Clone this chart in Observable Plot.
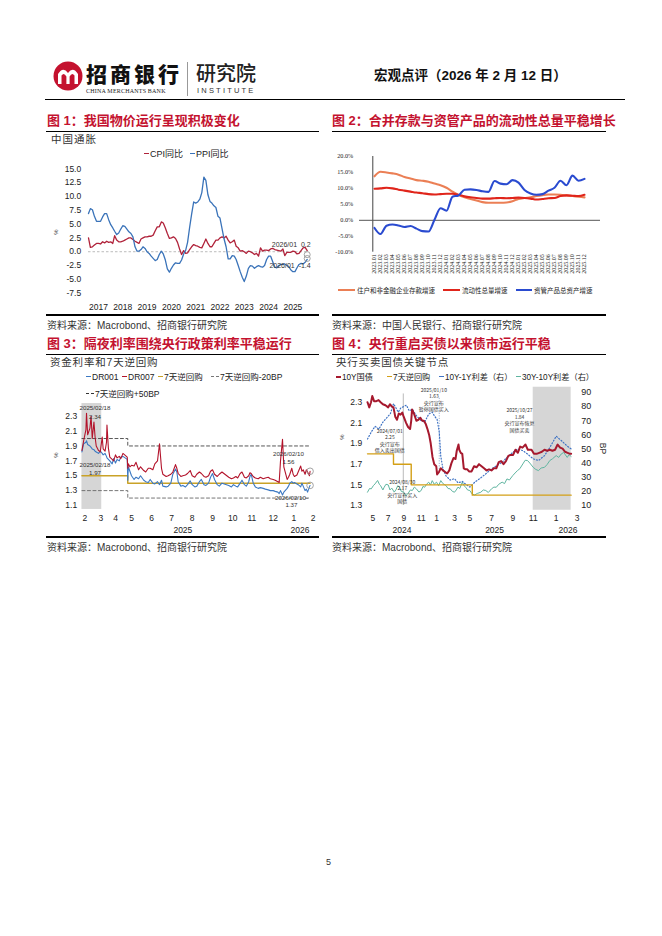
<!DOCTYPE html>
<html><head><meta charset="utf-8">
<script src="https://cdn.jsdelivr.net/npm/d3@7"></script>
<script src="https://cdn.jsdelivr.net/npm/@observablehq/plot@0.6"></script>
<style>
body{margin:0;background:#fff;}
#page{position:relative;width:662px;height:936px;overflow:hidden;background:#fff;font-family:"Liberation Sans","Noto Sans CJK SC",sans-serif;color:#222;}
.abs{position:absolute;white-space:nowrap;}
.title{font-family:"Liberation Sans","Noto Sans CJK SC",sans-serif;font-weight:bold;color:#c4122f;font-size:13px;line-height:16px;}
.dash{display:inline-block;width:5px;height:0;border-top:1.5px solid;vertical-align:middle;margin-right:1px;position:relative;top:-1px;}
.hline{position:absolute;background:#000;}
</style></head>
<body><div id="page"></div>
<script>
// ---------------- DATA ----------------
// Fig 1: China CPI / PPI YoY (%), monthly 2017-01 .. 2026-01
const cpiYoY = [2.5,0.8,0.9,1.2,1.5,1.5,1.4,1.8,1.6,1.9,1.7,1.8,
 1.5,2.9,2.1,1.8,1.8,1.9,2.1,2.3,2.5,2.5,2.2,1.9,
 1.7,1.5,2.3,2.5,2.7,2.7,2.8,2.8,3.0,3.8,4.5,4.5,
 5.4,5.2,4.3,3.3,2.4,2.5,2.7,2.4,1.7,0.5,-0.5,0.2,
 -0.3,-0.2,0.4,0.9,1.3,1.1,1.0,0.8,0.7,1.5,2.3,1.5,
 0.9,0.9,1.5,2.1,2.1,2.5,2.7,2.5,2.8,2.1,1.6,1.8,
 2.1,1.0,0.7,0.1,0.2,0.0,-0.3,0.1,0.0,-0.2,-0.5,-0.3,
 -0.8,0.7,0.1,0.3,0.3,0.2,0.5,0.6,0.4,0.3,0.2,0.1,
 0.5,-0.7,-0.1,-0.1,-0.1,0.1,0.0,-0.4,-0.3,0.2,0.7,0.8,
 0.2];
const ppiYoY = [6.9,7.8,7.6,6.4,5.5,5.5,5.5,6.3,6.9,6.9,5.8,4.9,
 4.3,3.7,3.1,3.4,4.1,4.7,4.6,4.1,3.6,3.3,2.7,0.9,
 0.1,0.1,0.4,0.9,0.6,0.0,-0.3,-0.8,-1.2,-1.6,-1.4,-0.5,
 0.1,-0.4,-1.5,-3.1,-3.7,-3.0,-2.4,-2.0,-2.1,-2.1,-1.5,-0.4,
 0.3,1.7,4.4,6.8,9.0,8.8,9.0,9.5,10.7,13.5,12.9,10.3,
 9.1,8.8,8.3,8.0,6.4,6.1,4.2,2.3,0.9,-1.3,-1.3,-0.7,
 -0.8,-1.4,-2.5,-3.6,-4.6,-5.4,-4.4,-3.0,-2.5,-2.6,-3.0,-2.7,
 -2.5,-2.7,-2.8,-2.5,-1.4,-0.8,-0.8,-1.8,-2.8,-2.9,-2.5,-2.3,
 -2.3,-2.2,-2.5,-2.7,-3.3,-3.6,-3.6,-2.9,-2.3,-2.1,-2.2,-1.9,
 -1.4];
const fig1YTicks = [-7.5,-5.0,-2.5,0.0,2.5,5.0,7.5,10.0,12.5,15.0];
const fig1YearTicks = ["2017","2018","2019","2020","2021","2022","2023","2024","2025"];

// Fig 2: growth rates (%), monthly 2023.01 .. 2025.12
const fig2Months = ["2023.01","2023.02","2023.03","2023.04","2023.05","2023.06","2023.07","2023.08","2023.09","2023.10","2023.11","2023.12",
 "2024.01","2024.02","2024.03","2024.04","2024.05","2024.06","2024.07","2024.08","2024.09","2024.10","2024.11","2024.12",
 "2025.01","2025.02","2025.03","2025.04","2025.05","2025.06","2025.07","2025.08","2025.09","2025.10","2025.11","2025.12"];
const depositGrowth = [13.8,15.2,15.0,14.7,14.3,13.6,13.1,12.6,12.4,12.1,11.5,11.0,
 10.2,9.0,7.9,7.2,6.7,6.2,5.7,5.5,5.5,5.5,5.6,6.0,
 6.7,7.0,7.2,7.6,7.9,8.1,8.1,8.0,7.8,7.6,7.4,7.2];
const liquidityGrowth = [9.9,10.0,10.2,10.0,9.6,9.3,9.0,8.7,8.5,8.2,8.1,8.2,
 8.3,8.3,8.0,7.5,7.2,7.0,6.8,6.8,6.9,7.0,6.9,7.0,
 7.1,7.0,6.8,6.5,6.7,6.9,7.0,7.6,7.8,7.7,7.6,8.0];
const assetMgmtGrowth = [-2.4,-4.3,-1.7,-1.3,-1.6,-2.1,-1.8,-2.6,-3.4,-3.5,0.2,3.8,
 3.0,7.4,7.8,9.6,9.7,9.5,9.1,8.9,12.3,11.5,11.3,12.6,
 11.8,9.5,8.4,8.0,8.2,9.3,10.2,12.4,11.0,14.0,12.4,13.0];
const fig2YTicks = [-10,-5,0,5,10,15,20];

// Fig 3: DR001, DR007 (%)
const moneyRates = [
 ["2025-02-10",1.82,1.84],["2025-02-13",1.93,1.97],["2025-02-17",1.95,2.12],["2025-02-18",1.97,2.34],["2025-02-20",1.92,2.05],
 ["2025-02-24",1.90,2.14],["2025-02-26",1.88,2.30],["2025-02-28",1.86,2.00],["2025-03-03",1.85,2.22],["2025-03-05",1.83,2.02],
 ["2025-03-07",1.82,1.90],["2025-03-11",1.80,1.84],["2025-03-14",1.83,1.82],["2025-03-18",1.80,2.02],["2025-03-20",1.78,1.86],
 ["2025-03-24",1.80,1.83],["2025-03-27",1.76,1.95],["2025-03-28",1.74,2.18],["2025-03-31",1.72,1.87],["2025-04-03",1.70,1.75],
 ["2025-04-08",1.66,1.72],["2025-04-11",1.73,1.70],["2025-04-15",1.67,1.78],["2025-04-18",1.72,1.74],["2025-04-22",1.70,1.76],
 ["2025-04-25",1.75,1.73],["2025-04-29",1.76,1.80],["2025-05-07",1.72,1.75],["2025-05-08",1.44,1.60],["2025-05-09",1.62,1.66],
 ["2025-05-12",1.56,1.62],["2025-05-15",1.50,1.64],["2025-05-19",1.45,1.63],["2025-05-22",1.48,1.68],["2025-05-26",1.46,1.58],
 ["2025-05-29",1.50,1.62],["2025-06-03",1.44,1.57],["2025-06-06",1.42,1.55],["2025-06-10",1.41,1.60],["2025-06-13",1.45,1.60],
 ["2025-06-17",1.40,1.58],["2025-06-20",1.39,1.66],["2025-06-24",1.42,1.70],["2025-06-27",1.38,1.93],["2025-06-30",1.44,1.60],
 ["2025-07-02",1.36,1.52],["2025-07-07",1.35,1.49],["2025-07-10",1.36,1.50],["2025-07-14",1.40,1.52],["2025-07-17",1.52,1.55],
 ["2025-07-21",1.59,1.65],["2025-07-23",1.55,1.60],["2025-07-25",1.42,1.53],["2025-07-29",1.36,1.49],["2025-08-01",1.37,1.50],
 ["2025-08-05",1.35,1.51],["2025-08-08",1.38,1.53],["2025-08-12",1.43,1.57],["2025-08-15",1.38,1.50],["2025-08-19",1.35,1.48],
 ["2025-08-22",1.36,1.52],["2025-08-26",1.42,1.55],["2025-08-29",1.45,1.53],["2025-09-02",1.38,1.49],["2025-09-05",1.37,1.48],
 ["2025-09-09",1.40,1.50],["2025-09-12",1.48,1.56],["2025-09-15",1.53,1.58],["2025-09-18",1.45,1.52],["2025-09-22",1.38,1.49],
 ["2025-09-25",1.36,1.52],["2025-09-29",1.40,1.55],["2025-10-09",1.37,1.48],["2025-10-13",1.35,1.46],["2025-10-16",1.38,1.47],
 ["2025-10-20",1.36,1.49],["2025-10-23",1.35,1.47],["2025-10-27",1.40,1.53],["2025-10-30",1.44,1.55],["2025-11-03",1.38,1.48],
 ["2025-11-06",1.36,1.47],["2025-11-10",1.42,1.50],["2025-11-12",1.49,1.54],["2025-11-14",1.52,1.53],["2025-11-17",1.40,1.49],
 ["2025-11-20",1.35,1.47],["2025-11-24",1.33,1.46],["2025-11-27",1.34,1.48],["2025-12-01",1.33,1.46],["2025-12-04",1.32,1.47],
 ["2025-12-08",1.31,1.48],["2025-12-11",1.30,1.46],["2025-12-15",1.30,1.45],["2025-12-18",1.29,1.44],["2025-12-22",1.28,1.42],
 ["2025-12-24",1.26,1.41],["2025-12-26",1.30,1.70],["2025-12-29",1.24,1.99],["2025-12-31",1.28,1.62],["2026-01-05",1.33,1.45],
 ["2026-01-07",1.36,1.48],["2026-01-09",1.40,1.52],["2026-01-12",1.42,1.60],["2026-01-14",1.40,1.52],["2026-01-16",1.41,1.49],
 ["2026-01-20",1.39,1.51],["2026-01-22",1.38,1.55],["2026-01-26",1.35,1.63],["2026-01-28",1.40,1.56],["2026-01-30",1.36,1.58],
 ["2026-02-02",1.30,1.52],["2026-02-04",1.32,1.58],["2026-02-06",1.28,1.55],["2026-02-09",1.35,1.50],["2026-02-10",1.37,1.56]];
const repo7d_fig3 = [["2025-02-10",1.5],["2025-05-08",1.4],["2026-02-10",1.4]];
const repoMinus20 = [["2025-02-10",1.3],["2025-05-08",1.2],["2026-02-10",1.2]];
const repoPlus50 = [["2025-02-10",2.0],["2025-05-08",1.9],["2026-02-10",1.9]];
const fig3Shade = [["2025-02-10","2025-03-17"]];
const fig3YTicks = [1.1,1.3,1.5,1.7,1.9,2.1,2.3];
const fig3MonthTicks = ["2025-02-15","2025-03-15","2025-04-15","2025-05-15","2025-06-15","2025-07-15","2025-08-15","2025-09-15","2025-10-15","2025-11-15","2025-12-15","2026-01-15","2026-02-15"];
const fig3MonthLabels = ["2","3","4","5","6","7","8","9","10","11","12","1","2"];
const fig3YearTicks = [["2025-08-01","2025"],["2026-01-25","2026"]];

// Fig 4
const cgb10y = [
 ["2024-04-10",2.30],["2024-04-17",2.25],["2024-04-24",2.30],["2024-04-29",2.36],["2024-05-06",2.31],["2024-05-15",2.31],
 ["2024-05-24",2.32],["2024-06-01",2.30],["2024-06-10",2.28],["2024-06-20",2.27],["2024-07-01",2.25],["2024-07-08",2.28],
 ["2024-07-15",2.26],["2024-07-22",2.25],["2024-07-29",2.16],["2024-08-05",2.13],["2024-08-12",2.19],["2024-08-19",2.18],
 ["2024-08-26",2.20],["2024-08-30",2.17],["2024-09-09",2.10],["2024-09-16",2.06],["2024-09-23",2.04],["2024-09-27",2.12],
 ["2024-09-30",2.23],["2024-10-08",2.18],["2024-10-15",2.12],["2024-10-22",2.13],["2024-10-29",2.15],["2024-11-05",2.12],
 ["2024-11-12",2.12],["2024-11-19",2.09],["2024-11-26",2.04],["2024-12-03",1.98],["2024-12-09",1.90],["2024-12-16",1.77],
 ["2024-12-23",1.70],["2024-12-31",1.68],["2025-01-03",1.60],["2025-01-08",1.62],["2025-01-10",1.63],["2025-01-15",1.66],
 ["2025-01-22",1.64],["2025-02-05",1.61],["2025-02-12",1.64],["2025-02-19",1.71],["2025-02-26",1.76],["2025-03-05",1.75],
 ["2025-03-10",1.83],["2025-03-17",1.89],["2025-03-20",1.84],["2025-03-26",1.81],["2025-04-01",1.80],["2025-04-07",1.66],
 ["2025-04-14",1.65],["2025-04-21",1.65],["2025-04-28",1.63],["2025-05-06",1.63],["2025-05-13",1.68],["2025-05-20",1.67],
 ["2025-05-27",1.70],["2025-06-03",1.68],["2025-06-10",1.66],["2025-06-17",1.64],["2025-06-24",1.65],["2025-07-01",1.64],
 ["2025-07-08",1.66],["2025-07-15",1.66],["2025-07-22",1.72],["2025-07-29",1.73],["2025-08-05",1.70],["2025-08-12",1.73],
 ["2025-08-19",1.78],["2025-08-26",1.79],["2025-09-02",1.79],["2025-09-09",1.84],["2025-09-16",1.81],["2025-09-23",1.87],
 ["2025-09-30",1.86],["2025-10-09",1.89],["2025-10-16",1.84],["2025-10-23",1.84],["2025-10-27",1.84],["2025-11-03",1.80],
 ["2025-11-10",1.80],["2025-11-17",1.81],["2025-11-24",1.82],["2025-12-01",1.84],["2025-12-08",1.83],["2025-12-15",1.84],
 ["2025-12-22",1.83],["2025-12-29",1.84],["2026-01-05",1.89],["2026-01-12",1.86],["2026-01-19",1.85],["2026-01-26",1.82],
 ["2026-02-02",1.81],["2026-02-09",1.80],["2026-02-12",1.80]];
const repo7d_fig4 = [["2024-04-10",1.8],["2024-07-22",1.7],["2024-09-27",1.5],["2025-05-08",1.4],["2026-02-12",1.4]];
const spread10y1y = [
 ["2024-04-10",57],["2024-04-25",62],["2024-05-10",66],["2024-05-25",64],["2024-06-10",69],["2024-06-25",72],["2024-07-10",75],
 ["2024-07-22",82],["2024-08-01",79],["2024-08-10",76],["2024-08-20",79],["2024-09-01",80],["2024-09-10",81],["2024-09-20",77],
 ["2024-10-01",78],["2024-10-15",73.5],["2024-11-01",70],["2024-11-15",69],["2024-12-01",74.7],["2024-12-15",76],["2024-12-25",73],
 ["2025-01-03",71],["2025-01-10",62],["2025-01-15",45],["2025-01-22",36],["2025-02-01",31],["2025-02-15",28],["2025-03-01",29],
 ["2025-03-15",26],["2025-04-01",27],["2025-04-15",25],["2025-05-01",23],["2025-05-15",26.5],["2025-06-01",29.6],["2025-06-15",32.4],
 ["2025-07-01",36],["2025-07-15",38],["2025-08-01",40.6],["2025-08-15",44],["2025-09-01",47.6],["2025-09-15",50],["2025-10-01",48.8],
 ["2025-10-15",46.4],["2025-11-01",43],["2025-11-15",41.8],["2025-12-01",45.3],["2025-12-15",51],["2026-01-01",59],["2026-01-15",56],
 ["2026-02-01",52],["2026-02-12",50]];
const spread30y10y = [
 ["2024-04-10",19.4],["2024-04-18",22],["2024-04-25",21.8],["2024-05-03",24],["2024-05-10",25.3],["2024-05-20",27.7],["2024-05-27",25],
 ["2024-06-01",24],["2024-06-10",21],["2024-06-15",22.9],["2024-06-22",25],["2024-07-01",24.6],["2024-07-08",21],["2024-07-15",22.3],
 ["2024-07-25",19.5],["2024-08-01",21.2],["2024-08-08",24],["2024-08-15",22.9],["2024-08-22",20],["2024-09-01",19.4],["2024-09-08",17],
 ["2024-09-15",18.2],["2024-09-24",21],["2024-10-01",20.6],["2024-10-08",23],["2024-10-15",21.8],["2024-10-24",19.5],["2024-11-01",20.6],
 ["2024-11-08",23.5],["2024-11-15",22.9],["2024-11-22",25],["2024-12-01",26.5],["2024-12-08",24.5],["2024-12-15",27.6],["2024-12-23",25],
 ["2025-01-01",26.5],["2025-01-08",24],["2025-01-15",27.6],["2025-01-22",25.5],["2025-02-01",24.1],["2025-02-08",22],["2025-02-15",21.8],
 ["2025-02-22",20],["2025-03-01",19.4],["2025-03-08",21],["2025-03-15",23],["2025-03-22",22],["2025-04-01",26.5],["2025-04-08",24],
 ["2025-04-15",22.9],["2025-04-22",21],["2025-05-01",20.6],["2025-05-08",18],["2025-05-15",17.5],["2025-05-22",18.5],["2025-06-01",19.4],
 ["2025-06-08",21],["2025-06-15",20.6],["2025-06-22",19.2],["2025-07-01",21.8],["2025-07-08",23],["2025-07-15",22.9],["2025-07-22",25],
 ["2025-08-01",26.5],["2025-08-08",25.5],["2025-08-15",28.8],["2025-08-22",28],["2025-09-01",31.2],["2025-09-08",33],["2025-09-15",34.7],
 ["2025-09-22",36],["2025-10-01",39.4],["2025-10-08",42],["2025-10-15",41.8],["2025-10-22",40],["2025-11-01",37],["2025-11-08",35.5],
 ["2025-11-15",34.7],["2025-11-22",36.5],["2025-12-01",37],["2025-12-08",39],["2025-12-15",41.8],["2025-12-22",43],["2026-01-01",45.3],
 ["2026-01-08",44],["2026-01-15",46.4],["2026-01-22",47.5],["2026-02-01",44],["2026-02-06",46],["2026-02-12",44.7]];
const fig4Shade = [["2025-11-01","2026-02-12"]];
const fig4LeftTicks = [1.3,1.5,1.7,1.9,2.1,2.3];
const fig4RightTicks = [10,20,30,40,50,60,70,80,90];
const fig4MonthTicks = ["2024-05-01","2024-07-01","2024-09-01","2024-11-01","2025-01-01","2025-03-01","2025-05-01","2025-07-01","2025-09-01","2025-11-01","2026-01-01","2026-03-01"];
const fig4MonthLabels = ["5","7","9","11","1","3","5","7","9","11","1","3"];
const fig4YearTicks = [["2024-08-25","2024"],["2025-07-10","2025"],["2026-02-03","2026"]];
const fig4Notes = [
 ["2024-07-01",2.25,"2024/07/01\n2.25\n央行宣布\n借入卖出国债"],
 ["2025-01-10",1.63,"2025/01/10\n1.63\n央行宣布\n暂停国债买入"],
 ["2024-08-30",2.17,"2024/08/30\n2.17\n央行宣布买入\n国债"],
 ["2025-10-27",1.84,"2025/10/27\n1.84\n央行宣布恢复\n国债买卖"]];

// ---------------- PAGE ----------------
const page = document.getElementById("page");
const P = d3.utcParse("%Y-%m-%d");
function el(tag, cls, css, html){const d=document.createElement(tag); if(cls) d.className=cls; if(css) d.style.cssText=css; if(html!=null) d.innerHTML=html; page.appendChild(d); return d;}
function text(s, x, cy, fs, css){ const lh = Math.round(fs*1.25); return el("div","abs",`left:${x}px;top:${cy-lh/2}px;font-size:${fs}px;line-height:${lh}px;${css||""}`, s);}
function hline(x1,x2,y,t){el("div","hline",`left:${x1}px;top:${y-t/2}px;width:${x2-x1}px;height:${t}px;`);}
function mount(svg,l,t){const w=el("div","",`position:absolute;left:${l}px;top:${t}px;`); w.appendChild(svg);}
function legItem(s, c, x, cy, fs, opt={}){
  const w = opt.w||5, th = opt.th||1.5, st = opt.dashed?"dashed":"solid";
  return text(`<span class="dash" style="border-top:${th}px ${st} ${c};width:${w}px;margin-right:${opt.gap||1}px"></span>${s}`, x, cy, fs, "color:#222;");
}

// header
el("div","",`position:absolute;left:53px;top:61px;width:30px;height:30px;`,
 `<svg width="30" height="30" viewBox="0 0 30 30"><circle cx="15" cy="15" r="14.5" fill="#c4122f"/>
  <path d="M5 23 L5 13 Q10 5 15 12 Q20 5 25 13 L25 23 L21.5 23 L21.5 14.5 Q19 11 16.6 15.5 L16.6 23 L13.4 23 L13.4 15.5 Q11 11 8.5 14.5 L8.5 23 Z" fill="#fff"/></svg>`);
text("招商银行", 86, 73, 21, "font-weight:900;letter-spacing:3px;font-family:'Noto Sans CJK SC';color:#111;");
text("CHINA MERCHANTS BANK", 86, 91, 6, "font-family:'Liberation Serif';color:#222;letter-spacing:0.2px;");
el("div","",`position:absolute;left:187px;top:62px;width:1px;height:34px;background:#999;`);
text("研究院", 196, 72, 20, "font-family:'Noto Sans CJK SC';font-weight:500;color:#222;");
text("INSTITUTE", 197, 90, 7.5, "letter-spacing:2.2px;color:#333;");
text("宏观点评（2026 年 2 月 12 日）", 374, 75, 13.5, "font-weight:bold;color:#111;");
hline(45, 625, 99.5, 1.5);

// titles & frames
for (const [s,x,y] of [["图 1：我国物价运行呈现积极变化",47,121],["图 2：合并存款与资管产品的流动性总量平稳增长",332,121],
  ["图 3：隔夜利率围绕央行政策利率平稳运行",47,344],["图 4：央行重启买债以来债市运行平稳",332,344]]) text(s,x,y,13,"").className="abs title";
for (const [a,b] of [[46,319],[332,606]]) { hline(a,b,131,1); hline(a,b,315,2); hline(a,b,354.5,1); hline(a,b,537,2); }
text("资料来源：Macrobond、招商银行研究院", 47, 325, 10, "color:#333;");
text("资料来源：中国人民银行、招商银行研究院", 332, 325, 10, "color:#333;");
text("资料来源：Macrobond、招商银行研究院", 47, 547, 10, "color:#333;");
text("资料来源：Macrobond、招商银行研究院", 332, 547, 10, "color:#333;");
text("5", 326, 862, 9, "color:#333;");

// chart labels / legends
text("中国通胀", 51, 139.5, 10.5, "color:#333;letter-spacing:1px;");
legItem("CPI同比","#b0223a",144,154.5,9);
legItem("PPI同比","#3a73b9",190,154.5,9);
text("%", 53, 232, 6, "transform:rotate(-90deg);color:#333;");
text("资金利率和7天逆回购", 50, 362.7, 10.5, "color:#333;letter-spacing:0.8px;");
legItem("DR001","#3b78c2",86,377.7,8.5);
legItem("DR007","#b3132b",122,377.7,8.5);
legItem("7天逆回购","#c9a227",158,377.7,8.5);
legItem("7天逆回购-20BP","#777",211,377.7,8.5,{w:8,dashed:true});
legItem("7天逆回购+50BP","#333",86,394.3,8.5,{w:8,dashed:true});
text("%", 53, 455, 6, "transform:rotate(-90deg);color:#333;");
text("央行买卖国债关键节点", 336, 362.7, 10.5, "color:#333;letter-spacing:0.8px;");
legItem("10Y国债","#a6192e",336,377.7,8.2,{th:2});
legItem("7天逆回购","#d4a017",387,377.7,8.2);
legItem("10Y-1Y利差（右）","#3f73c4",439,377.7,8.2,{dashed:true});
legItem("30Y-10Y利差（右）","#5fb5a0",516,377.7,8.2);
text("%", 339, 437, 6, "transform:rotate(-90deg);color:#333;");
text("BP", 597, 448, 8.5, "transform:rotate(90deg);color:#333;");
legItem("住户和非金融企业存款增速","#eb7f55",338,290.5,6.5,{w:17,th:2.2,gap:2});
legItem("流动性总量增速","#e0251b",443,290.5,6.5,{w:17,th:2.2,gap:2});
legItem("资管产品总资产增速","#2a4bd0",516,290.5,6.5,{w:16,th:2.2,gap:2});

const baseStyle = {fontFamily:"'Liberation Sans', Arial, sans-serif", fontSize:"8.5px", color:"#222", background:"transparent", overflow:"visible"};

// ---------------- FIG 1 ----------------
{
  const dates = d3.utcMonths(new Date(Date.UTC(2017,1,1)), new Date(Date.UTC(2026,2,1)));
  const rows = dates.map((d,i)=>({date:d, cpi:cpiYoY[i], ppi:ppiYoY[i]}));
  const last = rows[rows.length-1];
  const yearDates = fig1YearTicks.map(y=>P(y+"-07-01"));
  const svg = Plot.plot({
    width:280, height:160, marginLeft:43, marginRight:18, marginTop:13, marginBottom:22.3,
    style: baseStyle,
    x:{type:"utc", domain:[dates[0], dates[dates.length-1]], range:[43,261.7], label:null},
    y:{domain:[-7.5,15], range:[137.7,13.3], label:null},
    marks:[
      Plot.ruleY([0], {x1:dates[0], x2:dates[dates.length-1], stroke:"#aaa", strokeDasharray:"2.5,2", strokeWidth:0.8}),
      Plot.lineY(rows, {x:"date", y:"cpi", stroke:"#b0223a", strokeWidth:1.3}),
      Plot.lineY(rows, {x:"date", y:"ppi", stroke:"#3a73b9", strokeWidth:1.3}),
      Plot.dot([last], {x:"date", y:"cpi", r:3, stroke:"#999", fill:"none", strokeWidth:0.9, dy:4}),
      Plot.dot([last], {x:"date", y:"ppi", r:3, stroke:"#999", fill:"none", strokeWidth:0.9, dy:-1}),
      Plot.text([last], {x:"date", y:"cpi", text:d=>"2026/01  "+d.cpi.toFixed(1), textAnchor:"end", dx:3.5, dy:-6, fontSize:7, fill:"#333"}),
      Plot.text([last], {x:"date", y:"ppi", text:d=>"2026/01  "+d.ppi.toFixed(1), textAnchor:"end", dx:3.5, dy:6.5, fontSize:7, fill:"#333"}),
      Plot.axisY(fig1YTicks, {tickSize:0, tickPadding:7.3, tickFormat:d=>d.toFixed(1), fontSize:8.5, label:null}),
      Plot.axisX(yearDates, {tickSize:0, tickPadding:11, tickFormat:d=>String(d.getUTCFullYear()), fontSize:8.5, label:null})
    ]
  });
  mount(svg, 45, 155);
}

// ---------------- FIG 2 ----------------
{
  const rows = fig2Months.map((m,i)=>({m, dep:depositGrowth[i], liq:liquidityGrowth[i], am:assetMgmtGrowth[i]}));
  const svg = Plot.plot({
    width:280, height:140, marginLeft:27, marginRight:12, marginTop:11, marginBottom:33.3,
    style: {...baseStyle, fontFamily:"'Liberation Serif', serif"},
    x:{type:"point", domain:fig2Months, range:[28.7,264.3], padding:0, label:null},
    y:{domain:[-10,20], range:[106.7,11], label:null},
    marks:[
      Plot.ruleX([fig2Months[0]], {y1:-10, y2:20, dx:-1.7, stroke:"#444", strokeWidth:1}),
      Plot.ruleY([0], {stroke:"#555", strokeWidth:1}),
      Plot.line(rows, {x:"m", y:"dep", stroke:"#eb7f55", strokeWidth:2.1, curve:"monotone-x"}),
      Plot.line(rows, {x:"m", y:"liq", stroke:"#e0251b", strokeWidth:2.1, curve:"monotone-x"}),
      Plot.line(rows, {x:"m", y:"am", stroke:"#2a4bd0", strokeWidth:2.1, curve:"monotone-x"}),
      Plot.axisY(fig2YTicks, {tickSize:0, tickPadding:6.3, tickFormat:d=>d.toFixed(1)+"%", fontSize:6.2, label:null}),
      Plot.axisX(fig2Months, {tickSize:0, tickPadding:2, tickRotate:-90, fontSize:6, label:null})
    ]
  });
  mount(svg, 332, 145);
}

// ---------------- FIG 3 ----------------
{
  const rows = moneyRates.map(([d,a,b])=>({date:P(d), dr001:a, dr007:b}));
  const pol = repo7d_fig3.map(([d,v])=>({date:P(d), v}));
  const m20 = repoMinus20.map(([d,v])=>({date:P(d), v}));
  const p50 = repoPlus50.map(([d,v])=>({date:P(d), v}));
  const shade = fig3Shade.map(([a,b])=>({x1:P(a), x2:P(b)}));
  const mt = fig3MonthTicks.map(P);
  const px = [84.3,100.3,115,131,151,171,191.7,212,232.3,251.3,272.7,293.3,312.7].map(v=>v-45);
  const last = rows[rows.length-1];
  const peak = rows.find(r=>r.dr007===2.34);
  const svg = Plot.plot({
    width:280, height:140, marginLeft:37, marginRight:10, marginTop:10, marginBottom:29,
    style: baseStyle,
    x:{type:"utc", domain:mt, range:px, label:null},
    y:{domain:[1.1,2.3], range:[107,17.7], label:null},
    marks:[
      Plot.rect(shade, {x1:"x1", x2:"x2", y1:1.047, y2:2.47, fill:"#d6d6d6"}),
      Plot.line(m20, {x:"date", y:"v", curve:"step-after", stroke:"#666", strokeDasharray:"3,2.5", strokeWidth:0.9}),
      Plot.line(p50, {x:"date", y:"v", curve:"step-after", stroke:"#444", strokeDasharray:"3,2.5", strokeWidth:0.9}),
      Plot.line(pol, {x:"date", y:"v", curve:"step-after", stroke:"#c9a227", strokeWidth:1.5}),
      Plot.line(rows, {x:"date", y:"dr001", stroke:"#3b78c2", strokeWidth:1.1}),
      Plot.line(rows, {x:"date", y:"dr007", stroke:"#b3132b", strokeWidth:1.1}),
      Plot.dot([last], {x:"date", y:"dr007", r:3.3, stroke:"#999", fill:"none", strokeWidth:0.9}),
      Plot.dot([last], {x:"date", y:"dr001", r:3.3, stroke:"#999", fill:"none", strokeWidth:0.9}),
      Plot.text([peak], {x:"date", y:"dr007", text:d=>"2025/02/18\n"+d.dr007.toFixed(2), dx:8.5, dy:-1.5, fontSize:6.2, lineHeight:1.35, fill:"#333"}),
      Plot.text([peak], {x:"date", y:"dr001", text:d=>"2025/02/18\n"+d.dr001.toFixed(2), dx:8.5, dy:28, fontSize:6.2, lineHeight:1.2, fill:"#333"}),
      Plot.text([last], {x:"date", y:"dr007", text:d=>"2026/02/10\n"+d.dr007.toFixed(2), dx:-21.6, dy:-13.8, fontSize:6.2, lineHeight:1.2, fill:"#333"}),
      Plot.text([last], {x:"date", y:"dr001", text:d=>"2026/02/10-\n"+d.dr001.toFixed(2), dx:-18.6, dy:16, fontSize:6.2, lineHeight:1.1, fill:"#333"}),
      Plot.axisY(fig3YTicks, {tickSize:0, tickPadding:5.3, tickFormat:d=>d.toFixed(1), fontSize:8.5, label:null}),
      Plot.axisX(mt, {tickSize:0, tickPadding:5.3, tickFormat:(d,i)=>fig3MonthLabels[i], fontSize:8.5, label:null}),
      Plot.axisX(fig3YearTicks.map(([d])=>P(d)), {tickSize:0, tickPadding:17.3, tickFormat:(d,i)=>fig3YearTicks[i][1], fontSize:8.5, label:null})
    ]
  });
  mount(svg, 45, 398);
}

// ---------------- FIG 4 ----------------
{
  const toLeft = r => 1.3 + (r-10)/73.06;
  const y10 = cgb10y.map(([d,v])=>({date:P(d), v}));
  const pol = repo7d_fig4.map(([d,v])=>({date:P(d), v}));
  const s1 = spread10y1y.map(([d,v])=>({date:P(d), v}));
  const s2 = spread30y10y.map(([d,v])=>({date:P(d), v}));
  const shade = fig4Shade.map(([a,b])=>({x1:P(a), x2:P(b)}));
  const notes = fig4Notes.map(([d,v,t])=>({date:P(d), v, t}));
  const mt = fig4MonthTicks.map(P);
  const px = [372.3,387.7,403.3,420.7,436,454,469.3,491,512.3,532.7,555.7,576.7].map(v=>v-332);
  const offs = [[1.6,33],[-5.4,-72],[-1,76],[-12,-30]];
  const svg = Plot.plot({
    width:280, height:160, marginLeft:33, marginRight:34, marginTop:6, marginBottom:30,
    style: baseStyle,
    x:{type:"utc", domain:mt, range:px, label:null},
    y:{domain:[1.3,2.3], range:[125,21.7], label:null},
    marks:[
      Plot.rect(shade, {x1:"x1", x2:"x2", y1:1.254, y2:2.445, fill:"#d6d6d6"}),
      Plot.ruleX([notes[2]], {x:"date", y1:1.3, y2:2.38, stroke:"#aaa", strokeWidth:0.8}),
      Plot.ruleX([notes[1]], {x:"date", y1:1.65, y2:2.35, stroke:"#7f9cc8", strokeWidth:0.9, strokeDasharray:"1,1.5"}),
      Plot.line(s2, {x:"date", y:d=>toLeft(d.v), stroke:"#5fb5a0", strokeWidth:1}),
      Plot.line(s1, {x:"date", y:d=>toLeft(d.v), stroke:"#3f73c4", strokeWidth:1.2, strokeDasharray:"1,2"}),
      Plot.line(pol, {x:"date", y:"v", curve:"step-after", stroke:"#d4a017", strokeWidth:1.4}),
      Plot.line(y10, {x:"date", y:"v", stroke:"#a6192e", strokeWidth:2}),
      ...notes.map((n,i)=>Plot.text([n], {x:"date", y:"v", text:"t", dx:offs[i][0], dy:offs[i][1], fontSize:5, lineHeight:1.3, fill:"#333", fontFamily:"'Noto Sans CJK SC', sans-serif"})),
      Plot.axisY(fig4LeftTicks, {tickSize:0, tickPadding:3.3, tickFormat:d=>d.toFixed(1), fontSize:8.5, label:null}),
      Plot.axisY(fig4RightTicks.map(toLeft), {anchor:"right", tickSize:0, tickPadding:2.7, tickFormat:d=>String(Math.round(10+(d-1.3)*73.06)), fontSize:9, label:null}),
      Plot.axisX(mt, {tickSize:0, tickPadding:4.3, tickFormat:(d,i)=>fig4MonthLabels[i], fontSize:8.5, label:null}),
      Plot.axisX(fig4YearTicks.map(([d])=>P(d)), {tickSize:0, tickPadding:16.3, tickFormat:(d,i)=>fig4YearTicks[i][1], fontSize:8.5, label:null})
    ]
  });
  mount(svg, 332, 380);
}
</script></body></html>
